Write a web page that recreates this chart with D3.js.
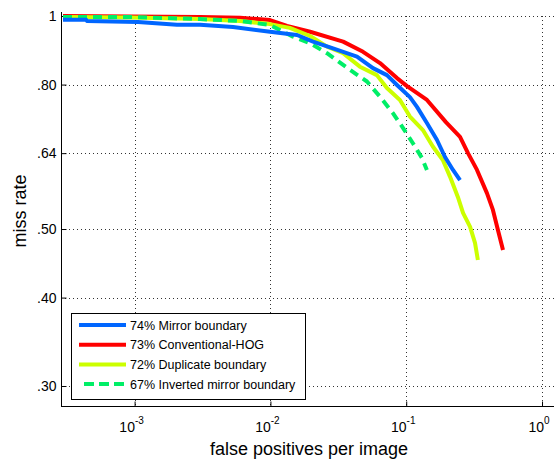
<!DOCTYPE html>
<html>
<head>
<meta charset="utf-8">
<script src="https://cdn.jsdelivr.net/npm/d3@7"></script>
<style>
  html, body { margin: 0; padding: 0; background: #fff; }
  svg { display: block; font-family: "Liberation Sans", Arial, sans-serif; }
</style>
</head>
<body>
<svg id="chart" width="554" height="459"></svg>
<script>
// ---- data ----
const seriesLabels = ["74% Mirror boundary", "73% Conventional-HOG", "72% Duplicate boundary", "67% Inverted mirror boundary"];
const seriesColors = ["#0066ff", "#ff0000", "#ccff00", "#00ee66"];

const mirrorFppi = [0.000297, 0.000440, 0.000446, 0.00106, 0.00205, 0.00303, 0.00531, 0.00993, 0.0157, 0.0206, 0.0289, 0.0434, 0.0569, 0.0721, 0.0855, 0.1065, 0.120, 0.142, 0.1685, 0.193, 0.221, 0.249];
const mirrorMiss = [0.988, 0.988, 0.984, 0.981, 0.972, 0.972, 0.965, 0.950, 0.940, 0.920, 0.900, 0.876, 0.844, 0.825, 0.799, 0.768, 0.744, 0.706, 0.668, 0.632, 0.606, 0.586];

const hogFppi = [0.000297, 0.000925, 0.00303, 0.00597, 0.00993, 0.01324, 0.0196, 0.0343, 0.0481, 0.0641, 0.0855, 0.1014, 0.1422, 0.196, 0.249, 0.285, 0.332, 0.393, 0.435, 0.474, 0.516];
const hogMiss = [1.0, 0.998, 0.997, 0.994, 0.987, 0.968, 0.950, 0.920, 0.890, 0.858, 0.817, 0.796, 0.761, 0.708, 0.675, 0.640, 0.606, 0.562, 0.532, 0.498, 0.467];

const dupFppi = [0.000297, 0.000925, 0.00303, 0.00597, 0.00993, 0.0139, 0.0196, 0.0261, 0.0343, 0.0456, 0.0608, 0.0721, 0.0899, 0.1065, 0.1327, 0.157, 0.186, 0.210, 0.240, 0.262, 0.295, 0.321, 0.337];
const dupMiss = [0.997, 0.995, 0.990, 0.984, 0.974, 0.962, 0.937, 0.905, 0.886, 0.848, 0.825, 0.791, 0.761, 0.721, 0.690, 0.654, 0.626, 0.593, 0.555, 0.527, 0.504, 0.478, 0.452];

const invFppi = [0.000297, 0.000925, 0.00303, 0.00597, 0.00993, 0.01466, 0.0196, 0.0261, 0.0386, 0.0514, 0.0641, 0.0798, 0.0946, 0.112, 0.1306, 0.142];
const invMiss = [0.997, 0.997, 0.990, 0.984, 0.971, 0.935, 0.915, 0.886, 0.839, 0.808, 0.769, 0.729, 0.695, 0.661, 0.630, 0.606];

const yTickValues = [0.30, 0.40, 0.50, 0.64, 0.80, 1];
const yTickLabels = [".30", ".40", ".50", ".64", ".80", "1"];
const xTickValues = [1e-3, 1e-2, 1e-1, 1];
const xTickExponents = ["-3", "-2", "-1", "0"];

const series = [
  { fppi: mirrorFppi, miss: mirrorMiss, dashed: false },
  { fppi: hogFppi, miss: hogMiss, dashed: false },
  { fppi: dupFppi, miss: dupMiss, dashed: false },
  { fppi: invFppi, miss: invMiss, dashed: true }
];

// ---- layout ----
const svg = d3.select("#chart");
const pLeft = 61, pBottom = 406, pTop = 16, pRight = 555.6;
const x = d3.scaleLog().domain([Math.pow(10, -3.542), Math.pow(10, 0.1)]).range([pLeft, pRight]);
const y = d3.scaleLog().domain([0.2811, 1]).range([pBottom, pTop]);

svg.append("defs").append("clipPath").attr("id", "clip")
  .append("rect").attr("x", pLeft).attr("y", 6).attr("width", 554 - pLeft).attr("height", pBottom - 6);

// grid
const grid = svg.append("g");
grid.selectAll("line.gy").data(yTickValues).join("line")
  .attr("x1", pLeft).attr("x2", 554)
  .attr("y1", d => Math.round(y(d)) + 0.5).attr("y2", d => Math.round(y(d)) + 0.5)
  .attr("stroke", "#333").attr("stroke-width", 1).attr("stroke-dasharray", "1,3");
grid.selectAll("line.gx").data(xTickValues).join("line")
  .attr("x1", d => Math.round(x(d)) + 0.5).attr("x2", d => Math.round(x(d)) + 0.5)
  .attr("y1", pTop).attr("y2", pBottom)
  .attr("stroke", "#333").attr("stroke-width", 1).attr("stroke-dasharray", "1,3");

// axes
const yAxis = d3.axisLeft(y).tickValues(yTickValues).tickSize(-5).tickPadding(5)
  .tickFormat((d, i) => yTickLabels[i]);
const gy = svg.append("g").attr("transform", `translate(${pLeft + 0.5},0)`).call(yAxis);
gy.select(".domain").attr("d", `M0,${pTop - 4}V${pBottom}`);
gy.selectAll("text").attr("font-size", 14).attr("fill", "#000").attr("font-family", "Liberation Sans, Arial, sans-serif");

const xAxis = d3.axisBottom(x).tickValues(xTickValues).tickSize(-5).tickFormat("");
const gx = svg.append("g").attr("transform", `translate(0,${pBottom + 0.5})`).call(xAxis);
gx.select(".domain").attr("d", `M${pLeft},0H554`);

// x tick labels with superscripts
const xl = svg.append("g");
xTickValues.forEach((v, i) => {
  const t = xl.append("text").attr("x", x(v) - 3).attr("y", 432)
    .attr("text-anchor", "middle").attr("font-size", 14).attr("fill", "#000");
  t.append("tspan").text("10");
  t.append("tspan").attr("dy", -8).attr("font-size", 10).text(xTickExponents[i]);
});

// axis titles
svg.append("text").attr("x", 309).attr("y", 455).attr("text-anchor", "middle")
  .attr("font-size", 18).attr("fill", "#000").text("false positives per image");
svg.append("text").attr("transform", `translate(26,${(pTop + pBottom) / 2}) rotate(-90)`)
  .attr("text-anchor", "middle").attr("font-size", 18).attr("fill", "#000").text("miss rate");

// curves
const line = d3.line().x(d => x(d[0])).y(d => y(d[1]));
const curves = svg.append("g").attr("clip-path", "url(#clip)");
[1, 2, 3, 0].forEach(i => {
  const s = series[i];
  const pts = s.fppi.map((f, k) => [f, s.miss[k]]);
  curves.append("path").attr("d", line(pts))
    .attr("fill", "none").attr("stroke", seriesColors[i]).attr("stroke-width", 4)
    .attr("stroke-linejoin", "round")
    .attr("stroke-dasharray", s.dashed ? "9,6" : null);
});

// legend
const lg = svg.append("g");
lg.append("rect").attr("x", 71.5).attr("y", 313.5).attr("width", 234).attr("height", 86)
  .attr("fill", "#fff").attr("stroke", "#000").attr("stroke-width", 1);
seriesLabels.forEach((lab, i) => {
  const yy = 325 + i * 19.7;
  lg.append("line").attr("x1", i === 3 ? 84 : 79).attr("x2", 126).attr("y1", yy).attr("y2", yy)
    .attr("stroke", seriesColors[i]).attr("stroke-width", 4)
    .attr("stroke-dasharray", series[i].dashed ? "10,5" : null);
  lg.append("text").attr("x", 130).attr("y", yy + 4.5).attr("font-size", 12.5).attr("fill", "#000").text(lab);
});
</script>
</body>
</html>
